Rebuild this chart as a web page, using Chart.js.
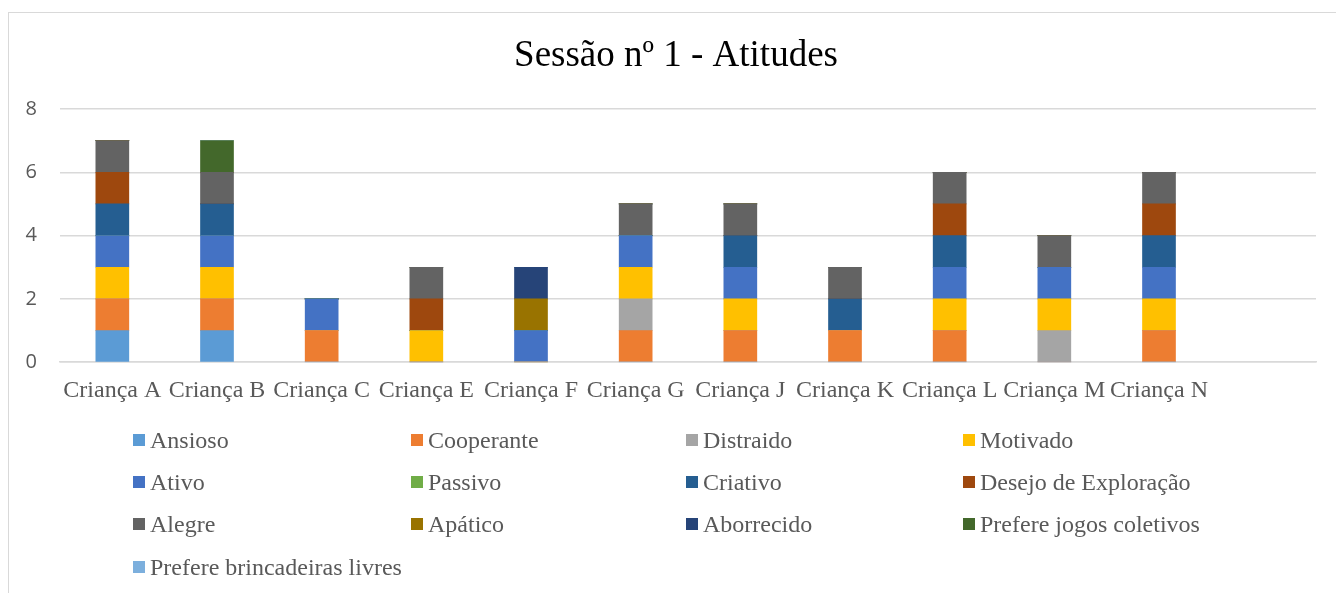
<!DOCTYPE html>
<html>
<head>
<meta charset="utf-8">
<script src="https://cdn.jsdelivr.net/npm/chart.js@4"></script>
<style>
  html, body { margin: 0; padding: 0; background: #fff; overflow: hidden; }
  #wrap { position: relative; width: 1336px; height: 593px; }
  #frame { position: absolute; left: 8px; top: 12px; width: 1400px; height: 700px; border: 1px solid #d9d9d9; box-sizing: border-box; }
  canvas { position: absolute; left: 0; top: 0; }
  #legenda { position: absolute; left: 0; top: 0; width: 1336px; height: 593px; pointer-events: none; }
  .item { position: absolute; font-family: "Liberation Serif", "Times New Roman", serif; font-size: 24px; color: #595959; white-space: nowrap; line-height: 28px; }
  .item span.box { display: inline-block; width: 12px; height: 12px; margin-right: 5px; vertical-align: 2px; }
</style>
</head>
<body>
<div id="wrap">
  <div id="frame"></div>
  <canvas id="chart" width="1336" height="593"></canvas>
  <div id="legenda"></div>
</div>
<script>
// categorias (a ultima fica vazia como no original)
let criancas = ['Criança A', 'Criança B', 'Criança C', 'Criança E', 'Criança F', 'Criança G', 'Criança J', 'Criança K', 'Criança L', 'Criança M', 'Criança N', '']
let titulo = 'Sessão nº 1 - Atitudes'

// uma lista por atitude, um valor por criança (null = categoria vazia)
let ansioso      = [1, 1, 0, 0, 0, 0, 0, 0, 0, 0, 0, null]
let cooperante   = [1, 1, 1, 0, 0, 1, 1, 1, 1, 0, 1, null]
let distraido    = [0, 0, 0, 0, 0, 1, 0, 0, 0, 1, 0, null]
let motivado     = [1, 1, 0, 1, 0, 1, 1, 0, 1, 1, 1, null]
let ativo        = [1, 1, 1, 0, 1, 1, 1, 0, 1, 1, 1, null]
let passivo      = [0, 0, 0, 0, 0, 0, 0, 0, 0, 0, 0, null]
let criativo     = [1, 1, 0, 0, 0, 0, 1, 1, 1, 0, 1, null]
let desejo       = [1, 0, 0, 1, 0, 0, 0, 0, 1, 0, 1, null]
let alegre       = [1, 1, 0, 1, 0, 1, 1, 1, 1, 1, 1, null]
let apatico      = [0, 0, 0, 0, 1, 0, 0, 0, 0, 0, 0, null]
let aborrecido   = [0, 0, 0, 0, 1, 0, 0, 0, 0, 0, 0, null]
let jogosColet   = [0, 1, 0, 0, 0, 0, 0, 0, 0, 0, 0, null]
let brincLivres  = [0, 0, 0, 0, 0, 0, 0, 0, 0, 0, 0, null]

let nomes = ['Ansioso', 'Cooperante', 'Distraido', 'Motivado', 'Ativo', 'Passivo', 'Criativo',
  'Desejo de Exploração', 'Alegre', 'Apático', 'Aborrecido', 'Prefere jogos coletivos', 'Prefere brincadeiras livres']
let valores = [ansioso, cooperante, distraido, motivado, ativo, passivo, criativo,
  desejo, alegre, apatico, aborrecido, jogosColet, brincLivres]
let cores = ['#5B9BD5', '#ED7D31', '#A5A5A5', '#FFC000', '#4472C4', '#70AD47', '#255E91',
  '#9E480E', '#636363', '#997300', '#264478', '#43682B', '#7CAFDD']

let datasets = []
for (let i = 0; i < nomes.length; i++) {
  datasets.push({
    label: nomes[i],
    data: valores[i],
    backgroundColor: cores[i],
    borderWidth: 0,
    barThickness: 33
  })
}

// titulo desenhado a mao, centrado no meio da moldura (como no original)
let pluginTitulo = {
  id: 'titulo',
  afterDraw(chart) {
    let c = chart.ctx
    c.save()
    c.font = '37px "Liberation Serif", serif'
    c.fillStyle = '#000'
    c.textAlign = 'center'
    c.textBaseline = 'middle'
    c.fillText(titulo, 676, 56)
    c.restore()
  }
}

const ctx = document.getElementById('chart').getContext('2d')
const grafico = new Chart(ctx, {
  type: 'bar',
  data: { labels: criancas, datasets: datasets },
  plugins: [pluginTitulo],
  options: {
    responsive: false,
    animation: false,
    layout: { padding: { left: 0, right: 20, top: 109, bottom: 174 } },
    plugins: {
      legend: { display: false },
      tooltip: { enabled: false },
      title: { display: false }
    },
    scales: {
      x: {
        stacked: true,
        grid: { display: false, drawTicks: false },
        border: { color: '#d9d9d9', width: 1.5 },
        ticks: {
          color: '#595959',
          font: { family: '"Liberation Serif", serif', size: 24 },
          padding: 14,
          autoSkip: false,
          maxRotation: 0
        }
      },
      y: {
        stacked: true,
        min: 0,
        max: 8,
        afterFit: function (scale) { scale.width = 60 },
        grid: { color: '#d9d9d9', lineWidth: 1.5, drawTicks: false },
        border: { display: false },
        ticks: {
          stepSize: 2,
          color: '#595959',
          font: { family: '"Open Sans", sans-serif', size: 20 },
          padding: 23
        }
      }
    }
  }
})

// legenda em grelha de 4 colunas, feita a partir dos datasets
let legenda = document.getElementById('legenda')
let colX = [133, 411, 686, 963]
let linY = [426, 468, 510, 553]
for (let i = 0; i < nomes.length; i++) {
  let div = document.createElement('div')
  div.className = 'item'
  div.style.left = colX[i % 4] + 'px'
  div.style.top = linY[Math.floor(i / 4)] + 'px'
  let box = document.createElement('span')
  box.className = 'box'
  box.style.background = cores[i]
  div.appendChild(box)
  div.appendChild(document.createTextNode(nomes[i]))
  legenda.appendChild(div)
}
</script>
</body>
</html>
